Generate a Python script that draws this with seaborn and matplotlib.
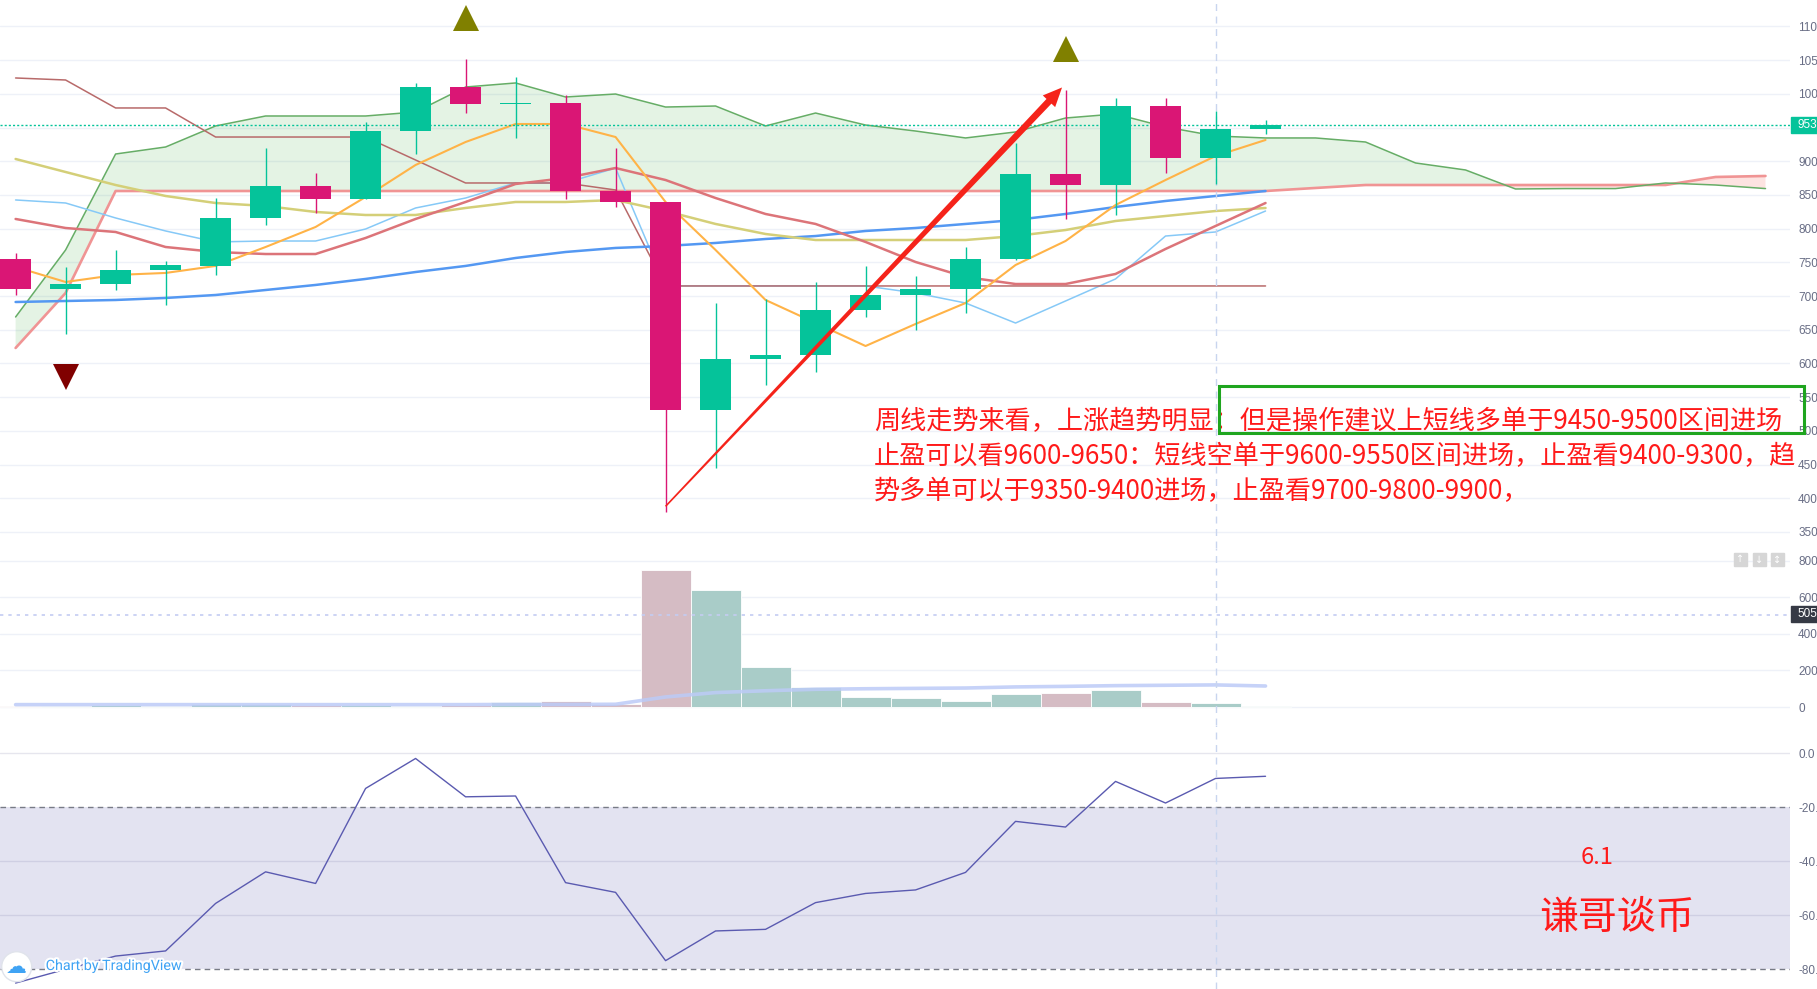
import numpy as np
import matplotlib
matplotlib.use("Agg")
import matplotlib.pyplot as plt
import matplotlib.patheffects as pe
from matplotlib.patches import Polygon, Rectangle, Circle
from matplotlib.transforms import IdentityTransform
import seaborn as sns

W, H = 1817, 989

# weekly candles
opens = [7550, 7105, 7179, 7387, 7450, 8160, 8633, 8440, 9449, 10102, 9850, 9865, 8559,
         8396, 5316, 6066, 6126, 6794, 7016, 7105, 7550, 8817, 8648, 9820, 9049, 9479]
closes = [7105, 7179, 7387, 7461, 8160, 8633, 8440, 9449, 10102, 9850, 9865, 8559, 8396,
          5310, 6073, 6132, 6794, 7016, 7105, 7550, 8817, 8648, 9820, 9049, 9479, 9538]
highs = [7640, 7432, 7684, 7521, 8455, 9197, 8826, 9583, 10162, 10518, 10251, 9983, 9197,
         8396, 6897, 6957, 7209, 7446, 7298, 7728, 9271, 10058, 9946, 9946, 9746, 9613]
lows = [7016, 6437, 7090, 6868, 7313, 8055, 8233, 8440, 9108, 9716, 9346, 8440, 8322,
        3797, 4449, 5681, 5866, 6690, 6497, 6749, 7541, 8150, 8203, 8826, 8663, 9405]

# ichimoku cloud (runs 10 bars past the last candle)
span_a = [6690, 7684, 9108, 9212, 9524, 9672, 9672, 9672, 9731, 10102, 10162, 9954, 9998,
          9805, 9820, 9524, 9716, 9538, 9449, 9346, 9435, 9642, 9702, 9509, 9375, 9346,
          9346, 9286, 8975, 8871, 8589, 8595, 8595, 8678, 8648, 8595]
span_b = [6230, 7046, 8559, 8559, 8559, 8559, 8559, 8559, 8559, 8559, 8559, 8559, 8559,
          8559, 8559, 8559, 8559, 8559, 8559, 8559, 8559, 8559, 8559, 8559, 8559, 8559,
          8604, 8648, 8648, 8648, 8648, 8648, 8648, 8648, 8767, 8782]
kijun = [10236, 10206, 9791, 9791, 9360, 9360, 9360, 9360, 9019, 8678, 8678, 8678, 8574,
         7150, 7150, 7150, 7150, 7150, 7150, 7150, 7150, 7150, 7150, 7150, 7150, 7150]
tenkan = [8426, 8381, 8159, 7966, 7803, 7817, 7817, 7995, 8307, 8455, 8678, 8678, 8900,
          7150, 7150, 7150, 7150, 7150, 7046, 6897, 6600, 6927, 7254, 7891, 7951, 8262]

# moving averages
ma_orange = [7432, 7209, 7313, 7343, 7447, 7728, 8025, 8470, 8945, 9286, 9553, 9553, 9360,
             8396, 7684, 6942, 6601, 6259, 6586, 6897, 7461, 7817, 8351, 8722, 9078, 9316]
ma_red = [8144, 8010, 7951, 7728, 7654, 7624, 7624, 7862, 8144, 8396, 8663, 8752, 8900,
          8722, 8455, 8218, 8070, 7803, 7506, 7283, 7179, 7179, 7328, 7699, 8040, 8381]
ma_yellow = [9034, 8841, 8648, 8485, 8381, 8337, 8248, 8203, 8203, 8307, 8396, 8396, 8426,
             8262, 8070, 7921, 7832, 7832, 7832, 7832, 7891, 7980, 8114, 8188, 8262, 8307]
ma_blue = [6912, 6927, 6942, 6972, 7016, 7090, 7165, 7254, 7357, 7447, 7565, 7654, 7714,
           7743, 7788, 7847, 7891, 7966, 8010, 8070, 8129, 8218, 8322, 8411, 8485, 8559]

volume = [7, 5, 13, 7, 16, 16, 13, 11, 7, 13, 27, 33, 18, 749, 643, 217, 108, 57, 51, 33,
          73, 79, 95, 27, 22, 5]
volume_ma = [13, 13, 13, 13, 13, 13, 13, 13, 13, 13, 14, 14, 15, 55, 79, 89, 97, 100, 102,
             104, 110, 113, 117, 119, 121, 115]

osc = [-85.2, -80.1, -75.2, -73.3, -55.7, -44.0, -48.3, -13.1, -2.0, -16.2, -15.9, -48.0,
       -51.6, -76.9, -65.9, -65.3, -55.4, -52.0, -50.7, -44.2, -25.3, -27.4, -10.5, -18.5,
       -9.4, -8.6]

price_ticks = [11000, 10500, 10000, 9500, 9000, 8500, 8000, 7500, 7000, 6500, 6000, 5500,
               5000, 4500, 4000, 3500]
price_labels = ["110", "105", "100", "", "900", "850", "800", "750", "700", "650", "600",
                "550", "500", "450", "400", "350"]
vol_ticks = [800, 600, 400, 200, 0]
vol_labels = ["800", "600", "400", "200", "0"]
osc_ticks = [0, -20, -40, -60, -80]
osc_labels = ["0.0", "-20.", "-40.", "-60.", "-80."]

last_price = 9538
cross_bar = 24
cross_volume = 505
up_marks = [(9, 11121), (21, 10672)]
down_marks = [(1, 5799)]
arrow_from = (13.0, 3880)
arrow_to = (20.93, 10095)

note_lines = [
    "周线走势来看，上涨趋势明显：但是操作建议上短线多单于9450-9500区间进场",
    "止盈可以看9600-9650：短线空单于9600-9550区间进场，止盈看9400-9300，趋",
    "势多单可以于9350-9400进场，止盈看9700-9800-9900，",
]

GREEN = "#05c39a"
RED = "#da1675"
LABEL = "#686d85"
GRID = "#eef1f8"
CJK = ["Noto Sans CJK SC", "DejaVu Sans"]

sns.set_style("white")
plt.rcParams["font.family"] = ["Liberation Sans", "DejaVu Sans"]

fig = plt.figure(figsize=(W / 100, H / 100), dpi=100)
fig.patch.set_facecolor("white")


def fx(x):
    return x / W


def fy(y):
    return 1 - y / H


def pane(top, bottom):
    return fig.add_axes([0, fy(bottom), 1790 / W, (bottom - top) / H])


ax_p = pane(0, 548)
ax_v = pane(548, 725)
ax_o = pane(725, 989)

idx = np.arange(len(closes))
idx_cloud = np.arange(len(span_a))

for ax, ticks, labels in [(ax_p, price_ticks, price_labels),
                          (ax_v, vol_ticks, vol_labels),
                          (ax_o, osc_ticks, osc_labels)]:
    ax.set_xlim(-0.312, 35.49)
    for s in ax.spines.values():
        s.set_visible(False)
    ax.set_xticks([])
    ax.yaxis.tick_right()
    ax.set_yticks(ticks)
    ax.set_yticklabels(labels)
    ax.tick_params(axis="y", length=0, pad=5.8, labelsize=8.5, labelcolor=LABEL)
    ax.set_axisbelow(True)
    ax.patch.set_alpha(0)

ax_p.set_ylim(3262, 11393)
ax_v.set_ylim(-98.6, 871)
ax_o.set_ylim(-87.4, 10.4)

ax_p.grid(axis="y", color=GRID, lw=1)
ax_v.grid(axis="y", color=GRID, lw=1)
for t in [0, -40, -60]:
    ax_o.axhline(t, color="#e6e6ee", lw=1, zorder=0)

# ---- price pane ----
a = np.array(span_a)
b = np.array(span_b)
ax_p.fill_between(idx_cloud, a, b, where=a >= b, interpolate=True,
                  color="#4caf50", alpha=0.15, lw=0, zorder=1)
ax_p.fill_between(idx_cloud, a, b, where=a < b, interpolate=True,
                  color="#f44336", alpha=0.15, lw=0, zorder=1)
sns.lineplot(x=idx_cloud, y=span_b, ax=ax_p, color="#f09494", lw=1.9, zorder=2)
sns.lineplot(x=idx_cloud, y=span_a, ax=ax_p, color="#66ad66", lw=1.1, zorder=2)
sns.lineplot(x=idx, y=tenkan, ax=ax_p, color="#86c9f7", lw=1.1, zorder=3)
sns.lineplot(x=idx, y=kijun, ax=ax_p, color="#b86a6a", lw=1.1, zorder=3)
sns.lineplot(x=idx, y=ma_blue, ax=ax_p, color="#5498f2", lw=1.8, zorder=3)
sns.lineplot(x=idx, y=ma_yellow, ax=ax_p, color="#d4cf78", lw=1.8, zorder=3)
sns.lineplot(x=idx, y=ma_red, ax=ax_p, color="#dc7479", lw=1.8, zorder=3)
sns.lineplot(x=idx, y=ma_orange, ax=ax_p, color="#ffb347", lw=1.5, zorder=3)

ax_p.axhline(last_price, color=GREEN, ls=(0, (1.5, 1.5)), lw=1, zorder=4)

for i in idx:
    o, c = opens[i], closes[i]
    col = GREEN if c >= o else RED
    ax_p.vlines(i, lows[i], highs[i], color=col, lw=1, zorder=5)
    ax_p.bar(i, max(abs(c - o), 14), bottom=min(o, c), width=0.62, color=col,
             lw=0, zorder=6)

for i, p in up_marks:
    ax_p.plot(i, p, marker="^", ms=18.5, color="#808000", mew=0, zorder=7)
for i, p in down_marks:
    ax_p.plot(i, p, marker="v", ms=18.5, color="#800000", mew=0, zorder=7)

# ---- volume pane ----
vcols = ["#a9ccc8" if closes[i] >= opens[i] else "#d5bcc4" for i in idx]
ax_v.bar(idx, volume, width=1.0, color=vcols, edgecolor="white", lw=0.6, zorder=2)
sns.lineplot(x=idx, y=volume_ma, ax=ax_v, color="#bccbf7", lw=2.6, alpha=0.85, zorder=3)
ax_v.axhline(cross_volume, color="#c4ccf2", ls=(0, (2, 3)), lw=1.2, zorder=4)

# ---- oscillator pane ----
ax_o.axhspan(-80, -20, color="#7e7ebe", alpha=0.21, lw=0, zorder=1)
for t in [-20, -80]:
    ax_o.axhline(t, color="#787b86", ls=(0, (4, 3)), lw=1, zorder=2)
sns.lineplot(x=idx, y=osc, ax=ax_o, color="#5a5ab0", lw=1, zorder=3)

for ax in (ax_p, ax_v, ax_o):
    ax.axvline(cross_bar, color="#c8d5ef", ls=(0, (5, 4)), lw=1, zorder=4)

# ---- red arrow (tapered) ----
fig.canvas.draw()
p0 = ax_p.transData.transform(arrow_from)
p1 = ax_p.transData.transform(arrow_to)
d = p1 - p0
u = d / np.hypot(*d)
n = np.array([-u[1], u[0]])
base = p1 - u * 19
poly = [p0 + n * 0.8, base + n * 3.4, base + n * 8.5, p1,
        base - n * 8.5, base - n * 3.4, p0 - n * 0.8]
fig.add_artist(Polygon(poly, closed=True, transform=IdentityTransform(),
                       facecolor="#f5231a", edgecolor="none", zorder=15))

# ---- right-side value boxes ----
fig.add_artist(Rectangle((fx(1791), fy(133.2)), 26 / W, 16.4 / H,
                         transform=fig.transFigure, color=GREEN, zorder=10))
fig.text(fx(1797), fy(125), "953", color="white", fontsize=8.5, va="center", zorder=11)
fig.add_artist(Rectangle((fx(1791), fy(622.3)), 26 / W, 16.6 / H,
                         transform=fig.transFigure, color="#363a45", zorder=10))
fig.text(fx(1797), fy(614), "505", color="white", fontsize=8.5, va="center", zorder=11)

for x0, sym in [(1734, "↑"), (1753, "↓"), (1771, "↕")]:
    fig.add_artist(Rectangle((fx(x0), fy(566)), 13 / W, 13 / H,
                             transform=fig.transFigure, color="#d6d6d6", zorder=10))
    fig.text(fx(x0 + 6.5), fy(559.5), sym, color="white", fontsize=7,
             ha="center", va="center", family="DejaVu Sans", zorder=11)

# ---- annotations ----
for k, line in enumerate(note_lines):
    fig.text(fx(874), fy(421.5 + 35 * k), line, color="#ff1a1a", fontsize=18.8,
             family=CJK, va="center", zorder=20)
fig.add_artist(Rectangle((fx(1219), fy(433)), 585 / W, 47 / H, transform=fig.transFigure,
                         fill=False, edgecolor="#1fa51f", lw=2.2, zorder=21))

fig.text(fx(1597), fy(858), "6.1", color="#ff1a1a", fontsize=17, family=CJK,
         ha="center", va="center", zorder=20)
fig.text(fx(1617), fy(918), "谦哥谈币", color="#ff1a1a", fontsize=28, family=CJK,
         ha="center", va="center", zorder=20)

# ---- TradingView badge ----
fig.add_artist(Circle((16.7, H - 966.7), 15, transform=IdentityTransform(),
                      facecolor="white", edgecolor="#e0e3eb", lw=1, zorder=12))
fig.text(fx(16.7), fy(967), "☁", color="#3fa3f4", fontsize=15, family="DejaVu Sans",
         ha="center", va="center", zorder=13)
fig.text(fx(45.7), fy(966), "Chart by TradingView", color="#3fa3f4", fontsize=10.3,
         family=["Roboto", "DejaVu Sans"], va="center", zorder=13,
         path_effects=[pe.withStroke(linewidth=3, foreground="white")])

fig.savefig("out.png", dpi=100, facecolor="white")
